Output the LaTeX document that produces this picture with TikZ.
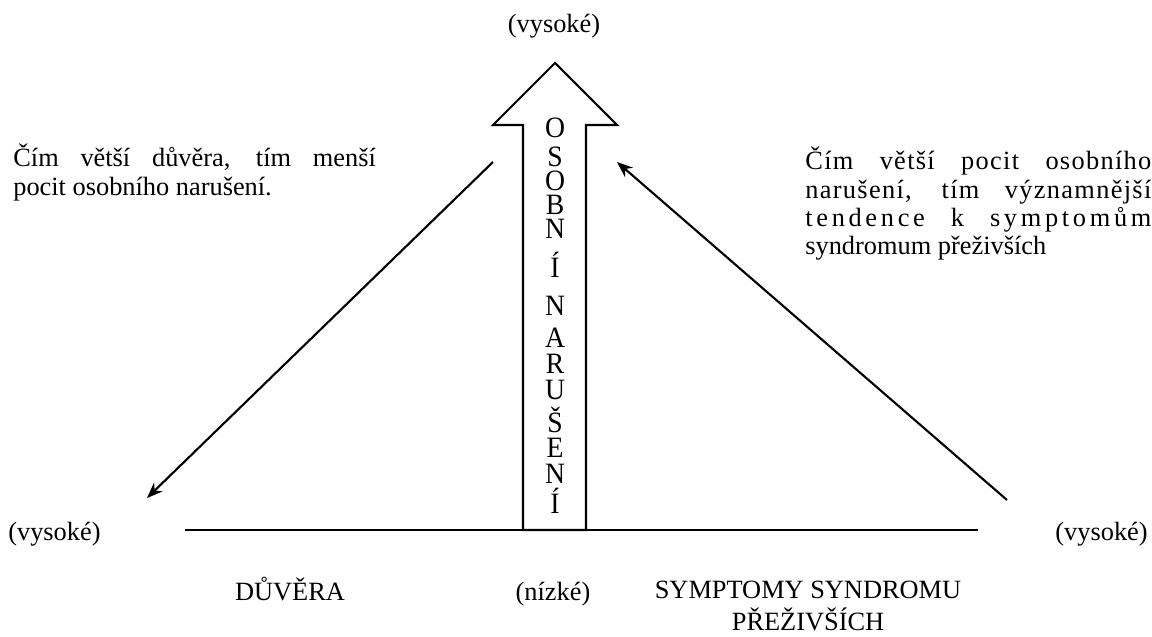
\documentclass[tikz,border=0pt]{standalone}
\usepackage{fontspec}
\usepackage{graphicx}
\setmainfont{Liberation Serif}
\usetikzlibrary{arrows.meta}

\newcommand{\tallchar}[1]{\scalebox{1.05}[1.12]{#1}}

\begin{document}
\begin{tikzpicture}[
        txt/.style={font=\fontsize{15}{16}\selectfont, inner sep=0pt},
        letter/.style={font=\fontsize{15}{16}\selectfont, inner sep=0pt, anchor=base},
        conn/.style={line width=1.2pt, -{Stealth[length=9pt, width=7pt]}}
    ]
                \useasboundingbox (0,0) rectangle (23.04,12.72);

                % the big arrow
                \draw[line width=1.2pt, fill=white]
                    (10.46,2.12) -- (10.46,10.22) -- (9.86,10.22) -- (11.1,11.46)
                    -- (12.34,10.22) -- (11.72,10.22) -- (11.72,2.12) -- cycle;

                \node[letter] (o1) at (11.1,9.98) {\tallchar{O}};
                \node[letter] (s1) at (11.1,9.4) {\tallchar{S}};
                \node[letter] (o2) at (11.1,8.92) {\tallchar{O}};
                \node[letter] (b1) at (11.1,8.44) {\tallchar{B}};
                \node[letter] (n1) at (11.1,7.96) {\tallchar{N}};
                \node[letter] (i1) at (11.1,7.18) {\tallchar{Í}};
                \node[letter] (n2) at (11.1,6.42) {\tallchar{N}};
                \node[letter] (a1) at (11.1,5.78) {\tallchar{A}};
                \node[letter] (r1) at (11.1,5.26) {\tallchar{R}};
                \node[letter] (u1) at (11.1,4.74) {\tallchar{U}};
                \node[letter] (sh1) at (11.1,4.08) {\tallchar{Š}};
                \node[letter] (e1) at (11.1,3.58) {\tallchar{E}};
                \node[letter] (n3) at (11.1,3.06) {\tallchar{N}};
                \node[letter] (i2) at (11.1,2.46) {\tallchar{Í}};

                % axis and the two slanted arrows
                \coordinate (axl) at (3.7,2.12);
                \coordinate (axr) at (19.56,2.12);
                \coordinate (lstart) at (9.86,9.48);
                \coordinate (lend) at (2.94,2.76);
                \coordinate (rstart) at (20.14,2.72);
                \coordinate (rend) at (12.34,9.48);

                \draw[line width=1.5pt] (axl) -- (axr);
                \draw[conn] (lstart) -- (lend);
                \draw[conn] (rstart) -- (rend);

                % labels
                \node[txt, anchor=base] (vystop) at (11.08,12.06) {(vysoké)};
                \node[txt, anchor=base west] (vyslft) at (0.16,1.92) {(vysoké)};
                \node[txt, anchor=base east] (vysrgt) at (22.96,1.92) {(vysoké)};
                \node[txt, anchor=base] (duvera) at (5.8,0.72) {DŮVĚRA};
                \node[txt, anchor=base] (nizke) at (11.06,0.72) {(nízké)};
                \node[txt, anchor=north, align=center,
                    font=\fontsize{15}{18}\selectfont] (sympt) at (16.16,1.1)
                    {SYMPTOMY SYNDROMU\\PŘEŽIVŠÍCH};

                \node[txt, text width=7.25cm, align=justify, anchor=north west]
                    (lefttxt) at (0.26,9.84)
                    {Čím větší důvěra, tím menší\linebreak pocit osobního narušení.};
                \node[txt, text width=6.92cm, align=justify, anchor=north west]
                    (righttxt) at (16.1,9.78)
                    {{\addfontfeature{LetterSpace=5}Čím větší pocit osobního}\linebreak
                     {\addfontfeature{LetterSpace=5}narušení, tím významnější}\linebreak
                     {\addfontfeature{LetterSpace=14}tendence k symptomům}\linebreak
                     syndromum přeživších};
            \end{tikzpicture}
\end{document}
